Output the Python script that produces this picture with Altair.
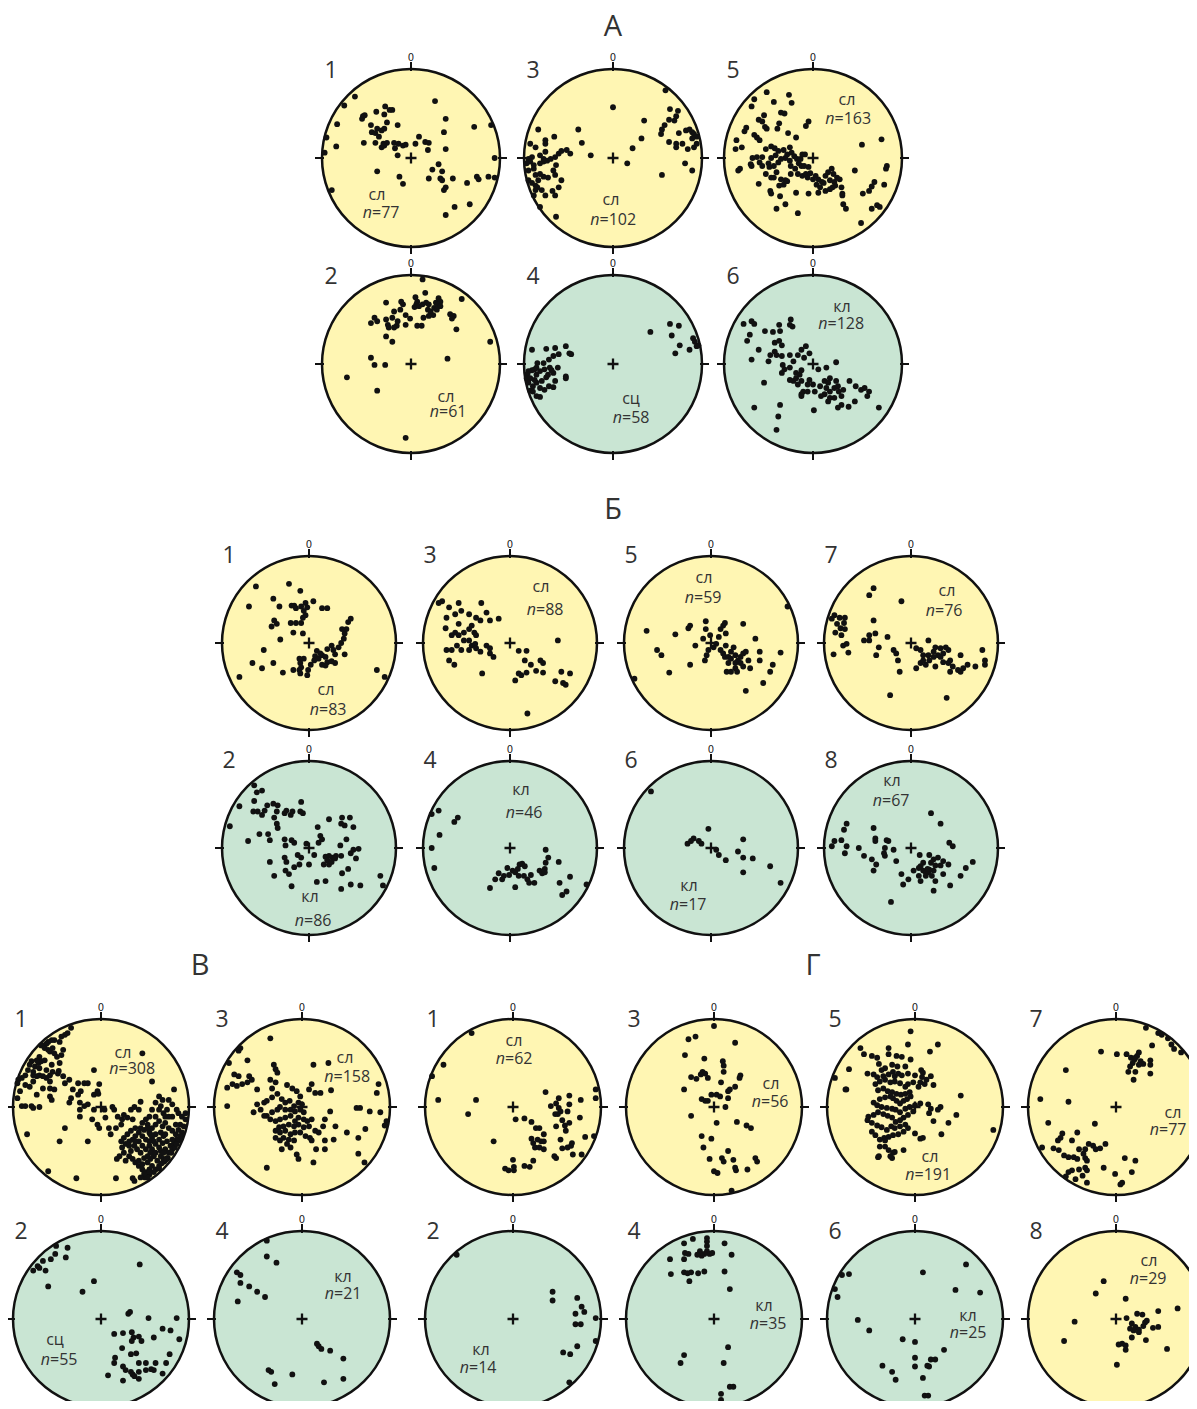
import altair as alt
import pandas as pd

# ---------------------------------------------------------------------------
# Pole positions read from the stereonets: "east,south" in % of the net radius
# ---------------------------------------------------------------------------
A1 = "-63,-69 -75,-59 -83,-38 -95,-23 -84,-13 -97,-6 -89,36 27,-64 -29,-58 -24,-54 -21,-54 -39,-52 -30,-49 -54,-47 -55,-44 -52,-48 -27,-40 -45,-37 -38,-33 -44,-29 -40,-28 -33,-31 -36,-24 -15,-37 -30,-33 -53,-17 -40,-17 -31,-16 -27,-17 -33,-12 -30,-14 -19,-17 -18,-11 -14,-16 -9,-14 -6,-15 -15,-3 5,-16 9,-24 16,-18 20,-17 19,-9 39,-44 37,-29 39,-10 71,-35 90,-37 94,0 -38,15 -13,21 -9,29 20,23 24,13 31,7 35,15 33,23 35,25 39,33 37,36 47,23 63,28 74,21 76,24 87,21 94,22 49,55 39,64 66,52"
A3 = "0,-57 -39,-32 -35,-17 35,-42 32,-22 22,-11 16,6 -25,-3 55,19 59,-76 64,-55 73,-53 71,-47 69,-42 63,-43 58,-37 55,-32 54,-27 63,-18 71,-16 71,-12 78,-16 82,-31 86,-32 89,-29 91,-27 94,-24 89,-22 94,-16 91,-12 84,-10 81,6 89,14 74,-28 -84,-32 -76,-20 -76,-16 -66,-24 -93,-16 -87,-12 -76,-7 -82,-3 -91,-1 -95,1 -93,4 -89,8 -89,12 -95,14 -95,25 -91,28 -87,31 -84,25 -78,21 -82,18 -78,4 -74,3 -70,1 -65,-1 -61,-5 -58,-8 -52,-9 -48,-5 -64,8 -67,14 -65,19 -58,25 -73,22 -68,37 -76,42 -61,33 -80,36 -87,36 -89,42 -65,42 -85,33 -87,19 -97,6 -78,1 -82,6 -64,66 -82,55"
A5 = "-52,-74 -27,-71 -66,-66 -69,-58 -44,-63 -24,-62 -55,-48 -61,-43 -57,-41 -36,-51 -32,-50 -52,-33 -54,-35 -40,-33 -38,-39 -28,-28 -19,-23 -8,-36 -5,-41 -75,-34 -77,-30 -66,-26 -63,-23 -60,-20 -86,-20 -87,-10 -80,-12 -53,-10 -47,-13 -43,-11 -39,-8 -33,-9 -26,-12 -24,-6 -29,-4 -21,-2 -18,1 -14,1 -16,6 -13,9 -20,12 -25,9 -26,3 -31,0 -36,1 -39,5 -42,-3 -47,0 -50,6 -57,-1 -63,-1 -68,0 -60,5 -69,9 -57,9 -49,10 -44,9 -41,16 -44,22 -53,18 -47,22 -36,24 -31,25 -38,31 -33,30 -29,26 -25,18 -17,18 -12,20 -8,18 -6,22 0,24 4,30 8,33 10,27 14,20 17,16 21,12 23,18 19,25 27,22 24,27 14,37 19,35 25,31 30,24 32,33 33,40 22,33 12,28 6,24 3,20 -3,17 -5,10 -10,9 -12,-4 -9,-4 -84,14 -82,12 -70,7 -61,29 -48,37 -47,40 -37,43 -31,52 -41,57 -19,39 -17,62 -5,40 6,39 47,14 55,-15 77,-21 83,9 82,12 80,30 69,27 66,32 63,37 56,40 72,53 75,55 66,57 54,73 34,52 37,57 33,42"
A2 = "13,-95 16,-80 5,-75 7,-70 6,-67 4,-64 9,-65 13,-67 17,-69 20,-67 19,-61 22,-59 26,-63 28,-69 31,-74 33,-70 30,-67 33,-65 29,-61 25,-55 20,-54 14,-52 12,-43 7,-43 -1,-51 -6,-44 -6,-55 -9,-67 -11,-70 -12,-61 -19,-59 -21,-52 -28,-69 -28,-50 -38,-48 -41,-52 -45,-46 -26,-44 -25,-41 -16,-43 -15,-48 -19,-41 44,-56 48,-54 46,-51 57,-73 51,-39 -28,-31 -21,-25 89,-25 -45,-7 -41,1 -29,1 41,-6 -72,15 -38,30 -6,83"
A4 = "-91,-16 -75,-17 -65,-18 -53,-20 -49,-12 -47,-11 -61,-11 -67,-9 -72,-5 -78,-1 -85,-1 -86,4 -88,6 -91,7 -95,8 -96,11 -97,16 -93,16 -86,12 -82,8 -77,6 -71,4 -67,10 -53,14 -53,16 -75,15 -80,19 -86,21 -90,25 -93,30 -90,31 -82,27 -77,29 -72,25 -65,19 -67,26 -86,36 -82,37 -95,21 -88,18 -73,12 -69,7 -62,4 42,-36 64,-45 74,-43 66,-32 90,-29 92,-25 96,-21 75,-21 86,-16 70,-12 94,-20"
A6 = "-78,-45 -69,-48 -66,-45 -71,-33 -74,-26 -61,-16 -69,-5 -54,-37 -45,-36 -38,-44 -37,-37 -26,-44 -25,-50 -23,-42 -43,-24 -38,-26 -35,-21 -43,-14 -48,-10 -50,-3 -41,-10 -35,-9 -34,1 -32,6 -35,10 -26,-10 -17,-10 -13,-16 -8,-20 -4,-12 -10,-7 -22,-3 -26,4 -19,10 -15,12 -13,7 -4,18 0,23 2,31 8,25 13,19 19,16 17,21 15,27 13,34 9,36 19,31 24,27 28,25 26,19 29,31 34,29 32,36 24,38 19,38 17,42 26,-2 15,4 6,6 -22,19 -19,16 -26,18 -13,19 -11,31 -17,23 -6,23 -13,34 -6,31 41,19 48,25 54,29 58,27 63,31 47,42 32,46 40,48 28,49 61,36 74,49 1,52 -37,46 -39,59 -41,74 -66,49 -55,21 -13,36"

B1 = "-61,-65 -23,-68 -10,-60 -69,-42 -41,-51 -34,-42 -20,-43 -17,-43 -15,-40 -9,-42 -4,-46 -2,-41 -6,-37 5,-48 15,-40 21,-40 -40,-26 -37,-22 -43,-19 -21,-23 -15,-23 -9,-23 -7,-29 -4,-32 -33,-4 -7,-11 -18,-12 -52,8 -65,23 -41,23 -54,29 -30,34 -18,31 -11,18 -10,23 -6,18 -9,28 -11,31 -10,35 -2,37 -1,31 2,25 6,20 7,15 9,9 11,18 15,14 19,16 21,22 15,25 19,26 13,12 21,7 26,3 28,8 30,13 34,5 37,0 40,-5 41,-11 43,-16 38,-16 45,-24 48,-28 41,13 30,23 26,21 -80,39 78,31 87,39"
B3 = "-78,-48 -82,-46 -70,-41 -59,-46 -33,-46 -73,-29 -63,-33 -56,-37 -47,-33 -39,-29 -34,-26 -27,-35 -23,-26 -13,-28 -74,-17 -63,-12 -59,-9 -53,-12 -47,-16 -44,-20 -41,-12 -39,-9 -47,-3 -53,-3 -44,3 -40,1 -39,6 -34,10 -27,3 -23,6 -23,12 -19,16 -47,8 -56,8 -67,8 -73,8 -61,3 -67,-9 -59,-22 -70,20 -64,25 -32,35 10,9 19,9 17,20 24,25 35,20 38,23 30,32 38,34 19,34 13,37 6,43 10,35 59,33 69,35 55,-3 52,44 61,46 64,48 20,81"
B5 = "-74,-14 -62,8 -57,14 -48,34 -41,-10 -26,-17 -24,-20 -24,25 -18,3 -9,-5 -6,-25 -6,-16 -7,20 -5,14 -3,8 3,5 6,1 9,-7 11,-16 14,-20 17,-11 11,8 14,12 16,16 20,16 20,23 18,33 23,18 23,10 26,5 28,14 31,20 34,16 37,12 34,23 37,27 28,29 23,33 30,33 37,-22 40,10 51,-5 56,10 56,20 45,29 60,46 71,25 68,33 80,11 40,55 88,-42 -88,41 -1,-9 16,-23 28,23 43,20 17,3"
B7 = "-43,-63 -48,-55 -11,-48 -43,-26 -88,-32 -91,-28 -82,-29 -76,-29 -85,-22 -77,-23 -81,-17 -76,-16 -87,-12 -80,-9 -74,1 -78,3 -72,11 -89,13 -54,-3 -48,-3 -48,-9 -41,-11 -27,-7 -37,5 -40,14 -20,8 -17,12 -15,20 -13,33 6,6 11,8 20,-3 14,14 20,14 26,10 28,5 34,6 37,12 40,5 43,8 31,14 26,16 21,20 17,25 11,23 6,29 28,27 37,22 45,20 48,27 54,31 57,33 60,29 65,25 74,27 82,8 85,20 85,25 43,23 57,14 45,33 -24,60 41,63 14,20 34,16"
B2 = "-91,-25 -63,-72 -60,-64 -54,-66 -63,-54 -80,-48 -64,-42 -59,-42 -54,-38 -51,-43 -48,-49 -41,-51 -36,-49 -37,-42 -28,-40 -26,-43 -21,-38 -19,-42 -10,-42 -7,-40 -9,-53 -40,-35 -37,-28 -36,-23 -47,-16 -57,-16 -70,-8 -45,-9 -28,-10 -20,-9 -17,-6 -27,-3 10,-24 13,-14 15,-10 11,-6 -3,-5 23,-33 37,-28 38,-35 47,-35 41,-26 51,-24 43,-10 36,-3 57,1 48,6 37,9 31,9 27,11 23,9 19,10 21,14 23,19 17,19 26,16 30,12 54,12 45,24 38,29 19,38 0,19 -9,11 -11,19 -17,22 -28,11 -27,26 -23,30 -45,16 -40,32 -20,44 9,39 37,47 48,42 59,43 82,32 85,43 51,2 -13,8 6,8 -26,16"
B4 = "-90,-39 -82,-43 -60,-35 -64,-30 -81,-15 -90,0 -87,23 -23,46 -13,29 -7,32 -9,36 -1,31 3,26 6,28 9,24 11,19 14,18 17,21 10,32 16,32 20,36 22,40 6,45 28,40 34,26 37,29 40,24 41,17 44,11 41,2 56,16 57,40 69,33 65,50 60,54 88,42 -17,36 -3,23 24,31 40,28"
B6 = "-69,-65 -3,-22 -20,-11 -23,-8 -27,-5 -14,-8 -11,-5 6,2 9,8 17,14 31,4 37,-10 37,11 48,12 37,28 68,21 80,40"
B8 = "23,-40 34,-28 -74,-28 -77,-21 -88,-8 -80,-9 -74,-2 -76,6 -91,-2 -60,0 -54,9 -45,13 -43,-23 -41,-11 -41,-8 -28,-9 -26,-8 -30,0 -31,6 -30,9 -40,19 -43,26 -20,2 -17,15 10,8 21,8 26,13 31,11 37,15 43,19 34,20 28,20 23,17 14,17 11,21 14,26 17,28 20,28 21,25 26,26 24,32 17,32 9,32 3,26 -3,36 -9,42 -11,30 11,38 26,49 28,38 37,30 45,43 57,32 63,23 71,16 -23,62 44,-6 48,-2 9,23 19,24"

V1 = ("-34,-90 -38,-84 -41,-82 -45,-80 -47,-74 -53,-76 -56,-76 -60,-74 -62,-72 -66,-70 -68,-70 -64,-67 -60,-65 -58,-63 -55,-67 -53,-61 -50,-57 -45,-59 -43,-65 -47,-50 -48,-41 -49,-38 -55,-40 -58,-36 -58,-29 -62,-33 -66,-35 -70,-36 -73,-35 -77,-36 -77,-40 -75,-46 -71,-50 -68,-52 -64,-53 -70,-57 -73,-53 -79,-52 -81,-48 -83,-42 -86,-36 -90,-33 -94,-31 -95,-27 -86,-25 -92,-18 -95,-10 -90,-1 -86,-1 -79,-1 -77,1 -70,0 -73,-14 -58,-12 -56,-8 -58,-21 -53,-20 -66,-21 -41,-27 -43,-35 -56,-48 -62,-42 -70,-44 -77,-29 -81,-23 "
      "-36,-31 -32,-20 -26,-27 -19,-27 -15,-27 -23,-18 -26,-14 -34,-10 -36,-5 -24,-5 -19,-1 -15,-3 -24,3 -24,11 -8,-42 -2,-26 -4,-18 -8,-14 -3,-15 -8,3 -10,14 -4,20 -2,24 5,12 4,3 13,0 15,3 19,11 9,24 11,31 17,24 23,20 24,14 26,9 30,12 34,3 38,0 43,3 36,14 45,-6 53,20 58,-29 47,-61 -15,39 -47,39 -41,24 -60,73 -28,81 17,81 -84,31 "
      "66,-12 70,-8 77,-8 83,-20 88,7 92,11 96,7 96,14 90,20 85,20 81,11 75,3 71,7 66,3 62,-5 58,3 55,11 51,14 47,18 45,24 49,26 55,29 58,24 62,20 66,16 70,22 73,18 77,24 81,27 85,31 88,26 92,29 90,35 88,38 86,37 83,41 79,44 75,39 71,33 68,29 62,31 58,35 55,39 51,37 47,33 43,29 39,33 36,37 32,39 28,42 24,46 23,39 26,35 30,31 34,27 39,24 43,39 47,44 51,48 55,44 58,48 62,42 66,46 70,41 73,48 77,52 81,48 80,52 84,46 76,58 72,62 75,58 71,59 68,56 64,61 60,56 56,59 53,63 49,58 45,52 41,48 38,44 34,50 32,56 36,59 39,63 43,67 47,71 51,74 55,71 58,67 62,71 66,67 66,70 69,64 74,60 60,74 55,77 50,80 55,74 53,80 49,76 45,80 36,81 38,84 43,61 47,65 21,56 26,52 32,44 39,39 53,56 56,52 62,52 68,50 71,52 81,37 86,42 90,33 94,22 73,31 66,37 60,39 56,31 53,24 73,11 77,11 62,11 68,-1 81,-3 86,3 18,59 28,61")
V3 = "-36,-78 -70,-67 -72,-64 -62,-53 -83,-50 -32,-48 -30,-43 -28,-39 13,-48 30,-50 -77,-37 -72,-35 -60,-35 -57,-31 -85,-22 -79,-26 -74,-24 -68,-26 -62,-28 -51,-20 -30,-28 -17,-25 -11,-21 -6,-18 8,-20 11,-26 15,-16 21,-16 33,-19 62,1 66,1 77,5 89,6 87,-26 96,16 94,21 85,-16 -85,-1 -51,-3 -43,-5 -40,-7 -34,-11 -28,-15 -23,-9 -19,-5 -14,-7 -9,-1 -4,-5 0,-3 -2,3 -8,5 -13,3 -19,3 -25,0 -28,3 -34,6 -40,10 -43,10 -36,14 -30,16 -25,14 -19,12 -13,10 -8,16 -4,12 2,14 6,16 11,14 8,22 2,23 -4,20 -9,22 -15,20 -21,22 -26,23 -30,27 -25,29 -19,27 -13,31 -8,29 -2,29 4,33 9,35 15,27 19,29 24,22 26,14 32,5 38,22 51,29 64,35 72,25 11,38 16,48 26,38 26,48 36,37 -9,38 -15,37 -21,35 -25,38 -30,35 -17,42 -13,46 -23,48 -6,54 -4,59 -40,69 13,63 64,53 71,63 -47,3 -55,6 -36,-31 -34,-21 -2,-12 2,6"
V2 = "-51,-83 -38,-81 -52,-74 -40,-70 -57,-68 -66,-66 -72,-60 -70,-58 -77,-55 -63,-55 -60,-37 -8,-43 -21,-31 44,-62 31,-6 33,-8 54,-1 86,-1 15,17 25,16 35,15 43,20 37,21 35,25 46,25 60,21 70,11 79,13 89,23 24,33 34,40 40,39 16,44 15,50 25,54 28,58 34,60 36,63 38,65 43,60 43,50 51,50 62,50 51,58 57,57 60,58 74,50 78,40 70,62 8,64 25,70 43,68"
V4 = "-40,-89 -40,-71 -29,-64 -74,-53 -70,-50 -70,-41 -60,-37 -51,-31 -42,-25 -73,-20 17,28 19,31 22,34 32,36 47,45 -38,58 -35,60 -31,74 -11,63 25,72 47,68"

G1 = "-47,-84 -79,-48 -92,-35 -85,-8 -42,-8 -51,8 -22,39 3,14 13,13 21,17 26,24 30,24 21,36 23,41 28,37 32,39 25,46 30,46 35,48 35,39 35,31 37,-17 43,-1 49,-4 52,-10 52,1 54,5 51,8 49,22 48,8 56,15 59,21 64,18 60,27 54,37 56,47 62,46 66,44 67,41 68,54 64,-13 77,-8 64,-3 62,5 76,12 82,34 94,-20 94,-10 92,33 78,54 47,56 49,58 0,60 -9,70 -5,72 1,72 1,68 13,67 19,68 23,61"
G3 = "0,-92 -29,-77 -21,-80 24,-73 -33,-59 -11,-55 10,-52 11,-47 11,-40 -13,-40 -10,-38 -15,-37 -7,-33 -26,-34 -20,-32 8,-28 30,-36 29,-33 24,-23 18,-20 16,-18 -34,-20 -3,-14 3,-14 7,-12 16,-10 -14,-9 -10,-7 -7,-7 13,0 -26,10 3,18 26,17 37,21 42,24 -14,33 -3,36 -12,46 16,50 -5,59 9,58 11,62 22,60 24,69 25,72 0,73 4,75 38,71 47,58 49,62 20,95"
G5 = "-5,-86 26,-71 17,-63 -8,-71 -30,-67 -62,-67 -58,-60 -49,-58 -43,-56 -41,-49 -30,-60 -21,-58 -15,-57 -5,-54 -75,-43 -91,-33 -78,-20 -54,-38 -47,-37 -43,-34 -36,-35 -30,-37 -25,-40 -23,-35 -19,-38 -15,-36 -8,-38 0,-36 7,-42 9,-39 8,-34 18,-35 13,-31 6,-28 4,-23 11,-26 21,-25 -2,-28 -8,-26 -11,-23 -17,-27 -23,-29 -28,-28 -34,-31 -40,-29 -45,-26 -42,-19 -36,-21 -31,-18 -26,-17 -21,-15 -16,-14 -11,-15 -6,-17 -5,-12 -9,-9 -13,-7 -17,-4 -21,-7 -25,-10 -28,-12 -34,-11 -40,-9 -47,-5 -43,-2 -38,0 -32,1 -26,2 -22,3 -17,6 -11,2 -6,0 0,-2 6,-4 15,-3 18,2 26,3 29,0 16,7 21,16 30,31 -2,5 -8,9 -13,12 -17,15 -22,17 -26,12 -31,10 -36,8 -42,6 -47,9 -53,11 -54,15 -49,18 -43,21 -38,23 -32,26 -27,22 -23,24 -17,22 -11,20 -8,24 -13,28 -19,31 -25,32 -30,34 -35,35 -40,37 -45,32 -49,28 -40,45 -34,45 -30,49 -23,51 -13,49 6,36 9,35 0,30 -26,58 -41,56 -28,56 -42,57 -25,52 -34,38 38,18 47,9 52,-13 89,26 -79,-20 -20,-46 -26,-48 -11,-46 -34,-44 -38,-42"
G7 = "34,-90 48,-84 52,-82 59,-78 63,-71 66,-66 74,-62 41,-70 -17,-63 1,-60 12,-60 17,-56 21,-54 26,-62 24,-58 28,-52 31,-49 39,-53 39,-48 39,-38 22,-56 19,-50 16,-46 14,-40 22,-40 20,-31 26,-48 -57,-42 -86,-9 -54,-6 -77,18 -24,19 -61,30 -63,35 -66,38 -50,38 -44,29 -71,47 -65,49 -59,55 -54,57 -48,57 -42,48 -35,48 -37,53 -31,42 -26,44 -23,48 -18,47 -12,42 -35,58 -33,61 -44,59 -42,71 -35,69 -33,72 -38,78 -50,72 -54,74 -57,79 -46,82 -33,86 -14,69 -1,76 10,58 22,61 18,74 7,86 5,88 -84,46"
G2 = "-64,-73 45,-31 45,-21 73,-24 78,-14 71,-6 81,-8 71,6 77,6 94,-1 94,25 73,31 57,38 65,40 64,72"
G4 = "-8,-92 -8,-88 -8,-83 -8,-77 -5,-74 -2,-75 -11,-74 -14,-72 -16,-77 -19,-73 -24,-91 -34,-86 -33,-75 -29,-74 -34,-68 -50,-68 -49,-51 -34,-53 -30,-52 -26,-53 -28,-43 -18,-52 -11,-54 12,-86 20,-73 12,-54 18,-34 -34,41 -38,50 16,32 11,50 18,77 22,77 8,85 8,92"
G6 = "58,-62 9,-53 -75,-51 -83,-50 -91,-34 -88,-25 46,-33 74,-30 -65,1 -52,13 -14,23 0,26 0,44 0,54 14,53 16,54 18,46 23,46 33,35 -37,53 -26,60 -22,69 9,67 11,87 15,87"
G8 = "-14,-43 -23,-29 11,-23 -47,3 -59,25 12,-1 24,-6 30,-5 18,5 22,9 20,13 26,12 26,15 33,4 35,2 42,10 48,9 48,-9 70,-12 34,24 18,21 3,29 7,28 11,30 11,35 58,34 1,52 31,8 16,11"

POLES = [A1, A3, A5, A2, A4, A6,
         B1, B3, B5, B7, B2, B4, B6, B8,
         V1, V3, V2, V4,
         G1, G3, G5, G7, G2, G4, G6, G8]
NUMBERS = ["1", "3", "5", "2", "4", "6",
           "1", "3", "5", "7", "2", "4", "6", "8",
           "1", "3", "2", "4",
           "1", "3", "5", "7", "2", "4", "6", "8"]
ROCKS = ["сл", "сл", "сл", "сл", "сц", "кл",
         "сл", "сл", "сл", "сл", "кл", "кл", "кл", "кл",
         "сл", "сл", "сц", "кл",
         "сл", "сл", "сл", "сл", "кл", "кл", "кл", "сл"]
COUNTS = [77, 102, 163, 61, 58, 128,
          83, 88, 59, 76, 86, 46, 17, 67,
          308, 158, 55, 21,
          62, 56, 191, 77, 14, 35, 25, 29]
SECTIONS = ["А", "Б", "В", "Г"]

# ---------------------------------------------------------------------------
# Layout (page pixels)
# ---------------------------------------------------------------------------
CX = [411, 613, 813, 411, 613, 813,
      309, 510, 711, 911, 309, 510, 711, 911,
      101, 302, 101, 302,
      513, 714, 915, 1116, 513, 714, 915, 1116]
CY = [158, 158, 158, 364, 364, 364,
      643, 643, 643, 643, 848, 848, 848, 848,
      1107, 1107, 1319, 1319,
      1107, 1107, 1107, 1107, 1319, 1319, 1319, 1319]
RAD = [89] * 6 + [87] * 8 + [88] * 12
ROCK_DX = [-34, -2, 34, 35, 18, 29, 17, 31, -7, 36, 1, 11, -22, -19, 22, 43, -46, 41, 1, 57, 15, 57, -32, 50, 53, 33]
ROCK_DY = [37, 42, -58, 33, 35, -57, 47, -56, -65, -52, 49, -58, 38, -67, -54, -49, 21, -42, -66, -23, 50, 6, 31, -13, -3, -58]
N_DX = [-30, 0, 35, 37, 18, 28, 19, 35, -8, 33, 4, 14, -23, -20, 31, 45, -42, 41, 1, 56, 13, 52, -35, 54, 53, 32]
N_DY = [55, 62, -39, 48, 54, -40, 67, -33, -45, -32, 73, -35, 57, -47, -38, -30, 41, -25, -48, -5, 68, 23, 49, 5, 14, -40]
SEC_X = [613, 613, 200, 813]
SEC_Y = [27, 510, 966, 966]

YELLOW = "#FFF6B3"
GREEN = "#C9E5D3"
INK = "#111111"
TXT = "#333333"
FONT = "Open Sans"
FS = 16
W_N, W_CH = 9.6, 9.15  # approx. advance widths at 16px

PAGE_W, PAGE_H = 1181, 1393   # fits inside the window with the 8px page margin

discs, ticks, dots, labels, nlab = [], [], [], [], []
for i in range(len(POLES)):
    cx, cy, r = CX[i], CY[i], RAD[i]
    discs.append({"x": cx, "y": cy, "size": (2 * r) ** 2,
                  "fill": YELLOW if ROCKS[i] == "сл" else GREEN,
                  "num": NUMBERS[i], "nx": cx - 80, "ny": cy - 87,
                  "zx": cx, "zy": cy - r - 11})
    for (ax, ay) in [(0, -1), (0, 1), (-1, 0), (1, 0)]:
        ticks.append({"x": cx + ax * (r - 2), "y": cy + ay * (r - 2),
                      "x2": cx + ax * (r + 7), "y2": cy + ay * (r + 7)})
    for tok in POLES[i].split():
        u, v = tok.split(",")
        dots.append({"x": cx + int(u) / 100 * r, "y": cy + int(v) / 100 * r})
    labels.append({"x": cx + ROCK_DX[i], "y": cy + ROCK_DY[i], "t": ROCKS[i]})
    rest = "=" + str(COUNTS[i])
    total = W_N + W_CH * len(rest)
    jx = cx + N_DX[i] - total / 2 + W_N
    nlab.append({"x": jx, "y": cy + N_DY[i], "n": "n", "rest": rest})

df_d = pd.DataFrame(discs)
df_t = pd.DataFrame(ticks)
df_p = pd.DataFrame(dots)
df_l = pd.DataFrame(labels)
df_n = pd.DataFrame(nlab)
df_s = pd.DataFrame({"x": SEC_X, "y": SEC_Y, "t": SECTIONS})

XS = alt.Scale(domain=[8, 8 + PAGE_W], nice=False, zero=False)
YS = alt.Scale(domain=[8, 8 + PAGE_H], nice=False, zero=False, reverse=True)


def pos(xf="x", yf="y"):
    return dict(x=alt.X(f"{xf}:Q", scale=XS, axis=None),
                y=alt.Y(f"{yf}:Q", scale=YS, axis=None))


disc_layer = alt.Chart(df_d).mark_point(
    shape="circle", filled=True, opacity=1, fillOpacity=1,
    stroke=INK, strokeWidth=2.5, strokeOpacity=1
).encode(**pos(), fill=alt.Fill("fill:N", scale=None), size=alt.Size("size:Q", scale=None))

tick_layer = alt.Chart(df_t).mark_rule(color=INK, strokeWidth=2).encode(
    **pos(), x2="x2:Q", y2="y2:Q")

dot_layer = alt.Chart(df_p).mark_circle(size=34, color=INK, opacity=1).encode(**pos())

plus_layer = alt.Chart(df_d).mark_point(
    shape="M-1,0L1,0M0,-1L0,1", size=121, filled=False, stroke=INK,
    strokeWidth=2.3, opacity=1).encode(**pos())

zero_layer = alt.Chart(df_d).mark_text(
    text="0", font="DejaVu Sans", fontSize=10, color="#222222", baseline="middle").encode(**pos("zx", "zy"))

num_layer = alt.Chart(df_d).mark_text(
    font=FONT, fontSize=23, color=TXT, baseline="middle").encode(**pos("nx", "ny"), text="num:N")

rock_layer = alt.Chart(df_l).mark_text(
    font=FONT, fontSize=FS, color=TXT, baseline="middle").encode(**pos(), text="t:N")

n_layer = alt.Chart(df_n).mark_text(
    font=FONT, fontSize=FS, fontStyle="italic", color=TXT, baseline="middle", align="right"
).encode(**pos(), text="n:N")

rest_layer = alt.Chart(df_n).mark_text(
    font=FONT, fontSize=FS, color=TXT, baseline="middle", align="left"
).encode(**pos(), text="rest:N")

sec_layer = alt.Chart(df_s).mark_text(
    font=FONT, fontSize=29, color=TXT, baseline="middle").encode(**pos(), text="t:N")

chart = alt.layer(
    disc_layer, tick_layer, dot_layer, plus_layer, zero_layer, num_layer,
    rock_layer, n_layer, rest_layer, sec_layer
).properties(
    width=PAGE_W, height=PAGE_H, padding=0,
    autosize=alt.AutoSizeParams(type="none"), background="white"
).configure_view(stroke=None)

chart.save("out.html", embed_options={"renderer": "svg", "actions": False})
